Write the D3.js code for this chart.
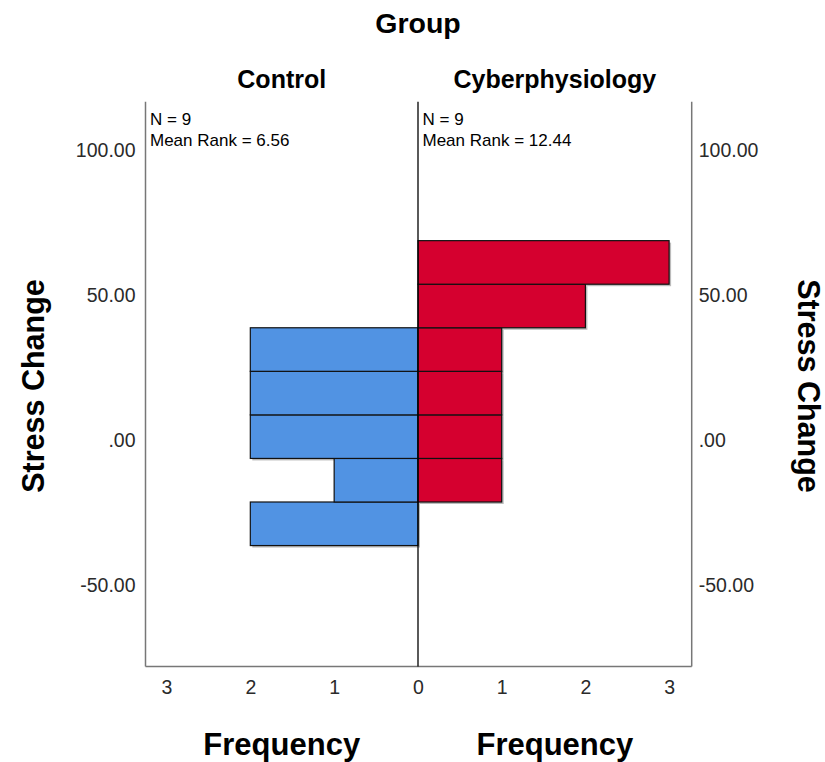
<!DOCTYPE html>
<html><head><meta charset="utf-8">
<script src="https://cdn.jsdelivr.net/npm/d3@7"></script>
<style>body{margin:0;background:#fff;} svg{display:block;font-family:"Liberation Sans",Arial,sans-serif;}</style>
</head><body>
<svg id="c" width="825" height="762"></svg>
<script>
// Data
const groups = ["Control", "Cyberphysiology"];
const binEdges = [-36.25, -21.25, -6.25, 8.75, 23.75, 38.75, 53.75, 68.75];
const controlFreq = [2, 1, 2, 2, 2, 0, 0];
const cyberFreq   = [0, 1, 1, 1, 1, 2, 3];
const nValues = [9, 9];
const meanRanks = ["6.56", "12.44"];
const yTicks = [-50, 0, 50, 100];
const freqTicks = [0, 1, 2, 3];

(function () {
const svg = d3.select("#c");
const cx = 418, plotTop = 101.7, plotBottom = 666.5;
const y = d3.scaleLinear().domain([-77.9, 116.6]).range([plotBottom, plotTop]);
const xL = d3.scaleLinear().domain([0, 3.25]).range([cx, 145.5]);
const xR = d3.scaleLinear().domain([0, 3.27]).range([cx, 691.7]);
const blue = "#5193e3", red = "#d5002f";

const fmt = v => v === 0 ? ".00" : d3.format(".2f")(v).replace("\u2212", "-");

function drawBars(freq, xs, color) {
  const data = freq.map((f, i) => ({f, lo: binEdges[i], hi: binEdges[i + 1]})).filter(d => d.f > 0);
  const g = svg.append("g");
  g.selectAll("rect.sh").data(data).enter().append("rect")
    .attr("x", d => Math.min(xs(0), xs(d.f)) + 2)
    .attr("y", d => y(d.hi) + 2)
    .attr("width", d => Math.abs(xs(d.f) - xs(0)))
    .attr("height", d => y(d.lo) - y(d.hi))
    .attr("fill", "#bbb");
  g.selectAll("rect.b").data(data).enter().append("rect")
    .attr("x", d => Math.min(xs(0), xs(d.f)))
    .attr("y", d => y(d.hi))
    .attr("width", d => Math.abs(xs(d.f) - xs(0)))
    .attr("height", d => y(d.lo) - y(d.hi))
    .attr("fill", color).attr("stroke", "#111").attr("stroke-width", 1.2);
}
drawBars(controlFreq, xL, blue);
drawBars(cyberFreq, xR, red);

const left = xL.range()[1], right = xR.range()[1];
svg.append("line").attr("x1", left).attr("x2", left).attr("y1", plotTop).attr("y2", plotBottom).attr("stroke", "#777").attr("stroke-width", 1.5);
svg.append("line").attr("x1", right).attr("x2", right).attr("y1", plotTop).attr("y2", plotBottom).attr("stroke", "#777").attr("stroke-width", 1.5);
svg.append("line").attr("x1", left).attr("x2", right).attr("y1", plotBottom).attr("y2", plotBottom).attr("stroke", "#777").attr("stroke-width", 1.5);
svg.append("line").attr("x1", cx).attr("x2", cx).attr("y1", plotTop).attr("y2", plotBottom).attr("stroke", "#000").attr("stroke-width", 1.3);

const gyl = svg.append("g").attr("transform", `translate(${left},0)`)
  .call(d3.axisLeft(y).tickValues(yTicks).tickFormat(fmt).tickSize(0).tickPadding(10));
const gyr = svg.append("g").attr("transform", `translate(${right},0)`)
  .call(d3.axisRight(y).tickValues(yTicks).tickFormat(fmt).tickSize(0).tickPadding(7));
const gxl = svg.append("g").attr("transform", `translate(0,${plotBottom})`)
  .call(d3.axisBottom(xL).tickValues(freqTicks.slice(1)).tickFormat(d3.format("d")).tickSize(0).tickPadding(14));
const gxr = svg.append("g").attr("transform", `translate(0,${plotBottom})`)
  .call(d3.axisBottom(xR).tickValues(freqTicks).tickFormat(d3.format("d")).tickSize(0).tickPadding(14));
[gyl, gyr, gxl, gxr].forEach(g => {
  g.select(".domain").remove();
  g.attr("font-size", 19.5).attr("font-family", "Liberation Sans, Arial, sans-serif");
  g.selectAll("text").attr("fill", "#2a2a2a");
});

svg.append("text").attr("x", cx).attr("y", 33).attr("text-anchor", "middle").attr("font-size", 28.5).attr("font-weight", "bold").text("Group");
const panelCenters = [(left + cx) / 2, (cx + right) / 2];
groups.forEach((gname, i) => {
  svg.append("text").attr("x", panelCenters[i]).attr("y", 88).attr("text-anchor", "middle").attr("font-size", 25).attr("font-weight", "bold").text(gname);
  const x0 = (i === 0 ? left : cx) + 4.5;
  svg.append("text").attr("x", x0).attr("y", 124.5).attr("font-size", 17).text(`N = ${nValues[i]}`);
  svg.append("text").attr("x", x0).attr("y", 145.5).attr("font-size", 17).text(`Mean Rank = ${meanRanks[i]}`);
  svg.append("text").attr("x", panelCenters[i]).attr("y", 755).attr("text-anchor", "middle").attr("font-size", 31).attr("font-weight", "bold").text("Frequency");
});
svg.append("text").attr("transform", `translate(44,386) rotate(-90)`).attr("text-anchor", "middle").attr("font-size", 30.5).attr("font-weight", "bold").text("Stress Change");
svg.append("text").attr("transform", `translate(798,386) rotate(90)`).attr("text-anchor", "middle").attr("font-size", 30.5).attr("font-weight", "bold").text("Stress Change");
})();
</script>
</body></html>
